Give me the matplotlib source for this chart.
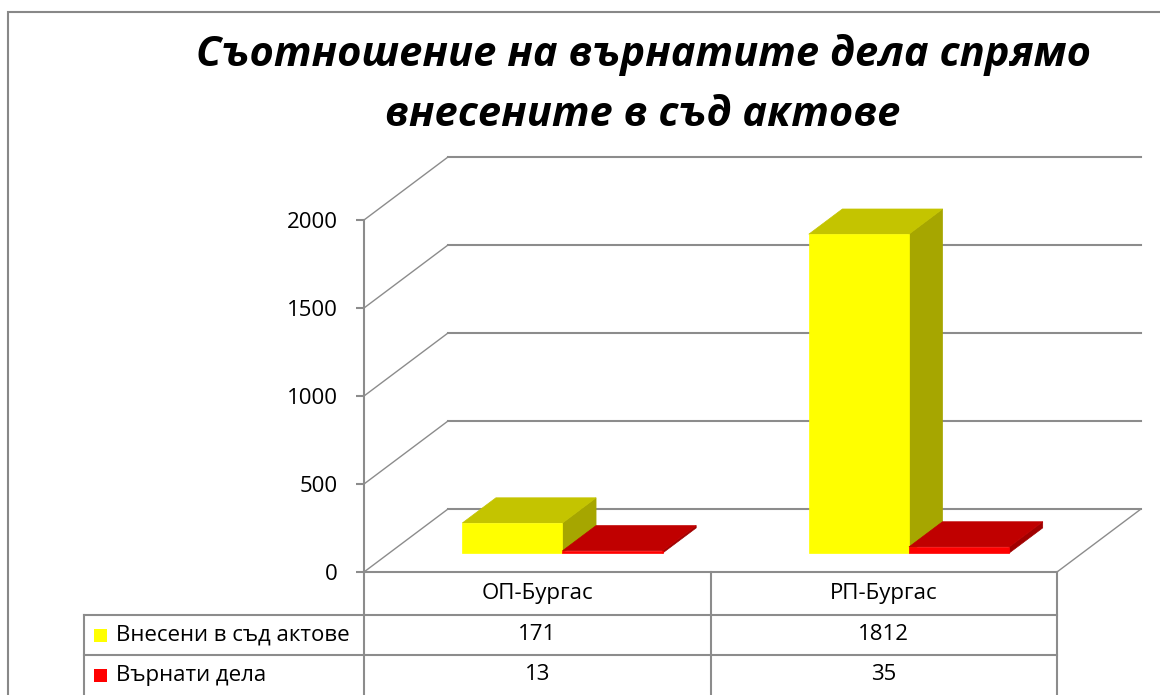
import matplotlib
matplotlib.use('Agg')
import matplotlib.pyplot as plt
from matplotlib.patches import Polygon, Rectangle
from matplotlib.transforms import blended_transform_factory

plt.rcParams['font.family'] = ['Open Sans', 'DejaVu Sans']

# данни
categories = ['ОП-Бургас', 'РП-Бургас']
series_names = ['Внесени в съд актове', 'Върнати дела']
filed = [171, 1812]
returned = [13, 35]
y_ticks = [0, 500, 1000, 1500, 2000]
title_lines = ['Съотношение на върнатите дела спрямо', 'внесените в съд актове']

W, H = 1160, 695
fig = plt.figure(figsize=(W / 100, H / 100), dpi=100)


def fx(px):
    return px / W


def fy(py):
    return 1 - py / H


grid_c = '#8c8c8c'
fs = 16
ax = fig.add_axes([fx(364), fy(572), fx(1057) - fx(364), fy(220) - fy(572)])
ax.set_xlim(0, len(categories))
ax.set_ylim(0, 2000)
ax.patch.set_visible(False)
for s in ['top', 'right', 'bottom']:
    ax.spines[s].set_visible(False)
ax.spines['left'].set_color(grid_c)
ax.spines['left'].set_linewidth(1.5)
ax.set_xticks([])
ax.set_yticks(y_ticks)
ax.tick_params(axis='y', length=6, width=1.5, color=grid_c, labelsize=fs, pad=13)

# дълбочина на 3D кутията (в единици на данните)
DX = 84 / 346.5
DY = 63 / 352 * 2000
n = len(categories)

# задна стена и лява стена
for v in y_ticks:
    ax.plot([DX, n + DX], [v + DY, v + DY], color=grid_c, lw=1.5, clip_on=False, zorder=1)
    ax.plot([0, DX], [v, v + DY], color=grid_c, lw=1.0, clip_on=False, zorder=1)
# десен ръб на пода
ax.plot([n, n + DX], [0, DY], color=grid_c, lw=1.0, clip_on=False, zorder=1)

bar_w = 0.289
d0, d1 = 0.3, 0.7


def box(x0, w, h, face, top, side):
    ox, oy = d0 * DX, d0 * DY
    bx, by = (d1 - d0) * DX, (d1 - d0) * DY
    front = [(x0 + ox, oy), (x0 + w + ox, oy), (x0 + w + ox, h + oy), (x0 + ox, h + oy)]
    topp = [(x0 + ox, h + oy), (x0 + w + ox, h + oy),
            (x0 + w + ox + bx, h + oy + by), (x0 + ox + bx, h + oy + by)]
    sidep = [(x0 + w + ox, oy), (x0 + w + ox + bx, oy + by),
             (x0 + w + ox + bx, h + oy + by), (x0 + w + ox, h + oy)]
    for pts, c in [(sidep, side), (topp, top), (front, face)]:
        ax.add_patch(Polygon(pts, closed=True, facecolor=c, edgecolor=c, lw=0.5,
                             clip_on=False, zorder=3))


for i in range(n):
    box(i + 0.5 - bar_w, bar_w, filed[i], '#ffff00', '#c4c400', '#a6a600')
    box(i + 0.5, bar_w, returned[i], '#ff0000', '#c00000', '#a00000')

# таблица с данни
bt = blended_transform_factory(ax.transData, fig.transFigure)
xl = (84 - 364) / 346.5
y_bot = fy(700)
kw = dict(color=grid_c, lw=1.5, transform=bt, clip_on=False)
for i in range(n + 1):
    ax.plot([i, i], [fy(572), y_bot], **kw)
ax.plot([xl, xl], [fy(615), y_bot], **kw)
ax.plot([0, n], [fy(572), fy(572)], **kw)
ax.plot([xl, n], [fy(615), fy(615)], **kw)
ax.plot([xl, n], [fy(655), fy(655)], **kw)

for i, cat in enumerate(categories):
    ax.text(i + 0.5, fy(594), cat, transform=bt, ha='center', va='center', fontsize=fs)
    ax.text(i + 0.5, fy(635), str(filed[i]), transform=bt, ha='center', va='center', fontsize=fs)
    ax.text(i + 0.5, fy(675), str(returned[i]), transform=bt, ha='center', va='center', fontsize=fs)

for name, col, yc in [(series_names[0], '#ffff00', 635), (series_names[1], '#ff0000', 675)]:
    fig.add_artist(Rectangle((fx(94), fy(yc + 7)), 13 / W, 13 / H,
                             facecolor=col, edgecolor='none', transform=fig.transFigure))
    fig.text(fx(116), fy(yc), name, ha='left', va='center', fontsize=fs)

# заглавие
for line, yb in zip(title_lines, [66, 126]):
    fig.text(fx(643), fy(yb), line, ha='center', va='baseline', fontsize=30,
             fontweight='bold', fontstyle='italic')

# рамка
fig.add_artist(Rectangle((fx(8), -0.1), 1.0, fy(12) + 0.1, fill=False,
                         edgecolor='#888888', lw=1.5, transform=fig.transFigure))

fig.savefig('out.png', dpi=100)
